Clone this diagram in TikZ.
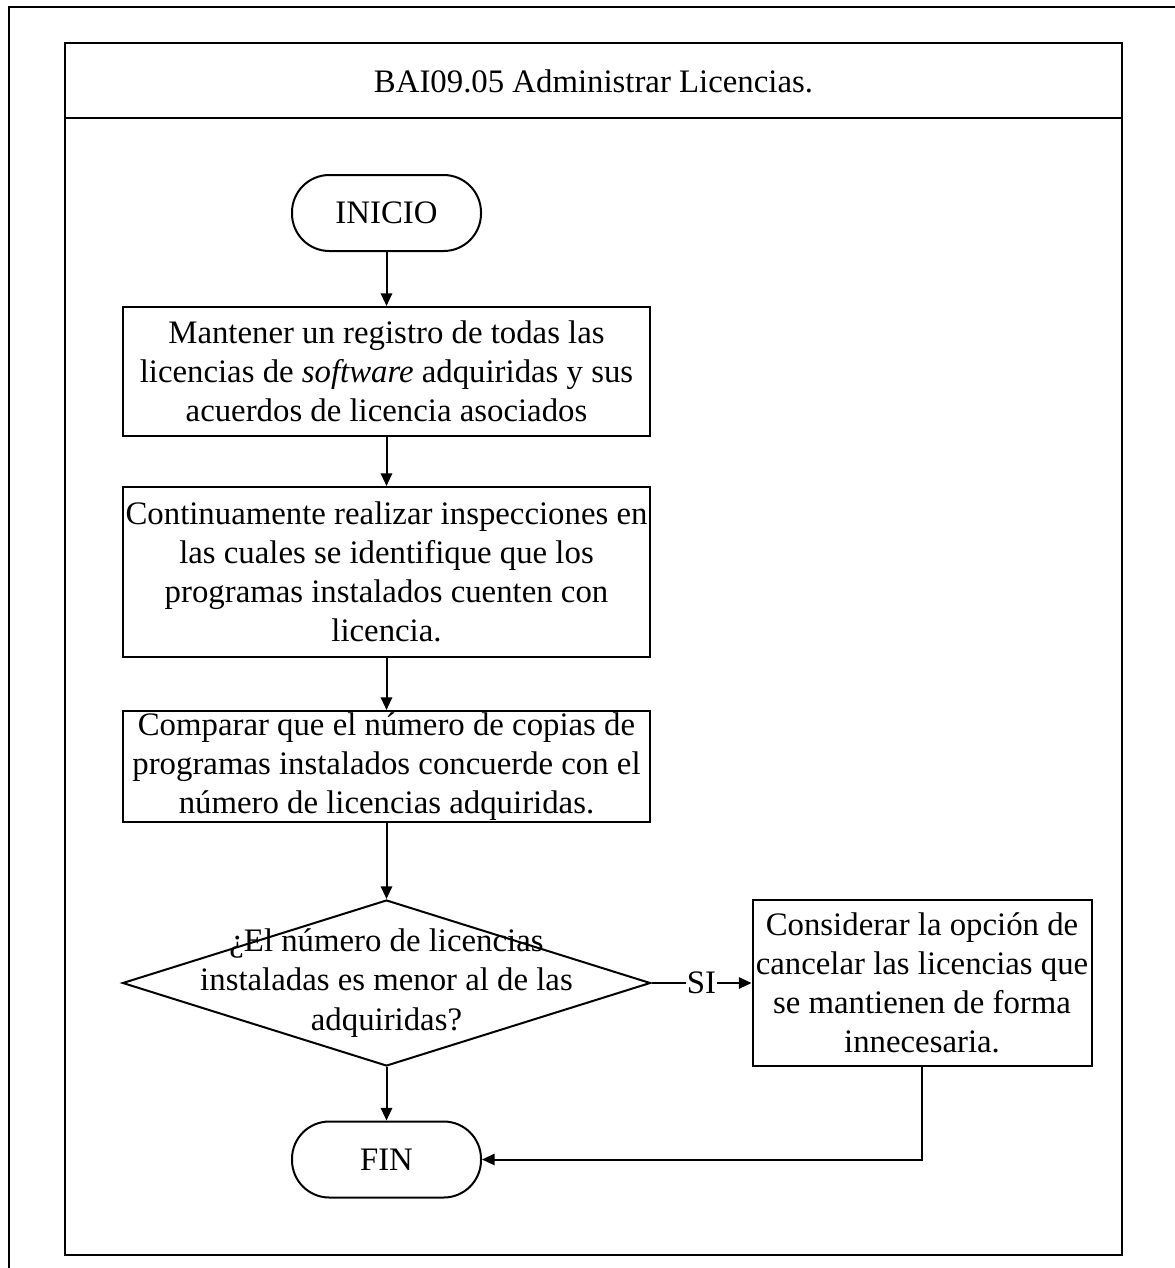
\documentclass[tikz,border=0pt]{standalone}
\usepackage{fontspec}
\setmainfont{Liberation Serif}
\usetikzlibrary{arrows.meta,shapes.geometric}
\begin{document}
\begin{tikzpicture}[x=0.75pt,y=-0.75pt,
  font=\fontsize{24.6}{29.4}\selectfont,
  frame/.style={line width=2.2pt},
  panel/.style={line width=1.8pt},
  terminal/.style={draw,line width=1.5pt,rounded corners=28pt,
    minimum width=141.75pt,minimum height=57pt,inner sep=0pt},
  process/.style={draw,line width=1.5pt,inner sep=0pt},
  boxtext/.style={label={[align=center]center:{#1}}},
  decision/.style={draw,line width=1.5pt,shape=diamond,inner sep=0pt,
    minimum width=396pt,minimum height=124.5pt},
  flow/.style={line width=1.5pt,-{Triangle[length=9.5pt,width=8.5pt]}}]
\useasboundingbox (0,0) rectangle (1175,1268);
% outer page frame, open towards the right and bottom
\draw[frame] (9,1268) -- (9,7) -- (1175,7);
% swimlane panel with its header
\draw[panel] (65,43) rectangle (1122,1255);
\draw[panel] (65,118) -- (1122,118);
\node (title) at (593.5,81) {BAI09.05 Administrar Licencias.};

\node[terminal] (inicio) at (386.5,213) {INICIO};
\node[process,minimum width=395.25pt,minimum height=96.75pt,
  boxtext={Mantener un registro de todas las\\licencias de \textit{software} adquiridas y sus\\acuerdos de licencia asociados}]
  (reg) at (386.5,371.5) {};
\node[process,minimum width=395.25pt,minimum height=127.5pt,
  boxtext={Continuamente realizar inspecciones en\\las cuales se identifique que los\\programas instalados cuenten con\\licencia.}]
  (insp) at (386.5,572) {};
\node[process,minimum width=395.25pt,minimum height=83.25pt,
  boxtext={Comparar que el número de copias de\\programas instalados concuerde con el\\número de licencias adquiridas.}]
  (comp) at (386.5,766.5) {};
\node[decision] (dec) at (386.5,983) {};
\node[align=center] (dectext) at (386.5,983)
  {¿El número de licencias\\instaladas es menor al de las\\adquiridas?};
\node[process,minimum width=254.25pt,minimum height=124.5pt,
  boxtext={Considerar la opción de\\cancelar las licencias que\\se mantienen de forma\\innecesaria.}]
  (cancel) at (922,983) {};
\node[terminal] (fin) at (386.5,1159.5) {FIN};

\draw[flow] (inicio) -- (reg);
\draw[flow] (reg) -- (insp);
\draw[flow] (insp) -- (comp);
\draw[flow] (comp) -- (dec);
\draw[flow] (dec) -- (fin);
\draw[flow] (dec.east) -- node[fill=white,inner sep=1pt] (si) {SI} (cancel.west);
\draw[flow] (cancel.south) |- (fin.east);
\end{tikzpicture}
\end{document}
